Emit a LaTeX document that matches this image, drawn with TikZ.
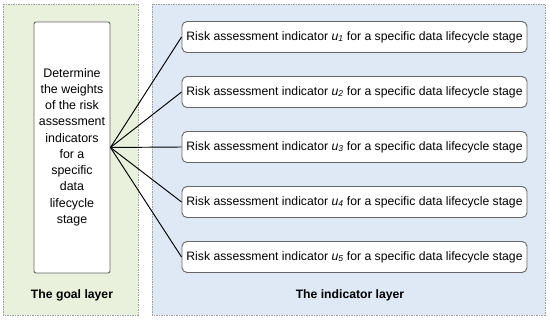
\documentclass[tikz,border=0pt]{standalone}
\usepackage{fontspec}
\setmainfont{Liberation Sans}
\begin{document}
\begin{tikzpicture}[x=1pt,y=-1pt,
  panel/.style={draw=black!38, dashed, dash pattern=on 1.5pt off 1pt, line width=0.6pt},
  goalbox/.style={draw=black!60, fill=white, rounded corners=2pt, line width=0.9pt, minimum width=76pt, minimum height=251pt, inner sep=0pt},
  indbox/.style={draw=black!60, fill=white, rounded corners=5pt, line width=0.9pt, minimum width=345pt, minimum height=31pt, inner sep=0pt, font=\fontsize{12.2}{14}\selectfont},
  layerlabel/.style={font=\fontsize{12.2}{14}\selectfont\bfseries},
  conn/.style={draw=black, line width=0.95pt}]
\useasboundingbox (0,0) rectangle (550,320);
\fill[white] (0,0) rectangle (550,320);
\draw[panel, fill={rgb,255:red,233;green,241;blue,220}] (3,4) rectangle (138,315);
\draw[panel, fill={rgb,255:red,222;green,233;blue,245}] (152,4) rectangle (545,315);
\node[goalbox] (goal) at (72,147.5) {};
\node[align=center, font=\fontsize{12.4}{16.25}\selectfont] (goaltext) at (72,147) {Determine\\the weights\\of the risk\\assessment\\indicators\\for a\\specific\\data\\lifecycle\\stage};
\foreach \i/\y in {1/37,2/92,3/147,4/202,5/257}{
  \node[indbox] (ind\i) at (354.5,\y) {Risk assessment indicator {\itshape u\textsubscript{\i}} for a specific data lifecycle stage};
  \draw[conn] (goal.east) -- (ind\i.west);
}
\node[layerlabel] (goallabel) at (72,295) {The goal layer};
\node[layerlabel] (indlabel) at (350,295) {The indicator layer};
\end{tikzpicture}
\end{document}
